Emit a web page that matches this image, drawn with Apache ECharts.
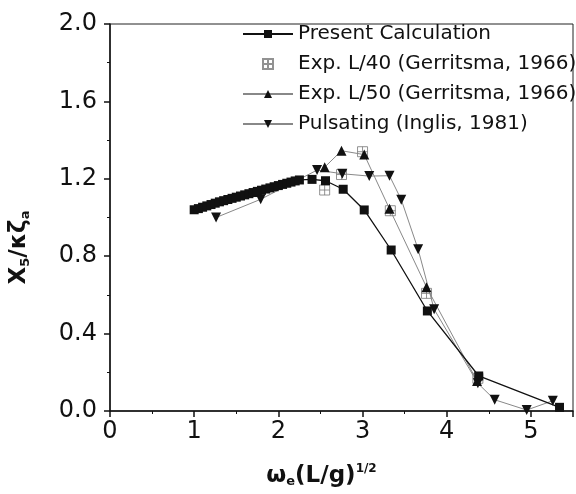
<!DOCTYPE html>
<html>
<head>
<meta charset="utf-8">
<script src="https://cdn.jsdelivr.net/npm/echarts@6/dist/echarts.min.js"></script>
<style>
  html, body { margin: 0; padding: 0; background: #fff; }
  #chart { width: 576px; height: 494px; }
</style>
</head>
<body>
<div id="chart"></div>
<script>
// Present Calculation
var calcX = [1.00, 1.05, 1.10, 1.15, 1.20, 1.25, 1.30, 1.35, 1.40, 1.45, 1.50, 1.55, 1.60,
             1.65, 1.70, 1.75, 1.80, 1.85, 1.90, 1.95, 2.00, 2.05, 2.10, 2.15, 2.20, 2.25,
             2.40, 2.56, 2.77, 3.02, 3.34, 3.77, 4.38, 5.34];
var calcY = [1.040, 1.046, 1.053, 1.060, 1.067, 1.074, 1.081, 1.087, 1.093, 1.099, 1.105, 1.111, 1.117,
             1.123, 1.129, 1.135, 1.141, 1.147, 1.153, 1.159, 1.165, 1.171, 1.177, 1.183, 1.189, 1.194,
             1.197, 1.190, 1.146, 1.039, 0.832, 0.517, 0.181, 0.019];

// Exp. L/40 (Gerritsma, 1966)
var l40X = [2.55, 2.75, 3.00, 3.33, 3.76, 4.37];
var l40Y = [1.142, 1.222, 1.340, 1.035, 0.608, 0.169];

// Exp. L/50 (Gerritsma, 1966)
var l50X = [2.55, 2.75, 3.02, 3.32, 3.76, 4.36];
var l50Y = [1.260, 1.345, 1.325, 1.045, 0.640, 0.155];

// Pulsating (Inglis, 1981)
var pulsX = [1.26, 1.79, 2.46, 2.76, 3.08, 3.32, 3.46, 3.66, 3.85, 4.37, 4.57, 4.95, 5.26];
var pulsY = [1.000, 1.094, 1.245, 1.226, 1.214, 1.216, 1.092, 0.836, 0.526, 0.143, 0.058, 0.005, 0.053];

var xTicks = [0, 1, 2, 3, 4, 5];

function pairs(xs, ys) {
  var out = [];
  for (var i = 0; i < xs.length; i++) out.push([xs[i], ys[i]]);
  return out;
}

var FONT = 'DejaVu Sans';
var boxCross = 'path://M0,0H10V10H0Z M5,0V10 M0,5H10';
var triDown = 'path://M0,0L10,0L5,9Z';

var myChart = echarts.init(document.getElementById('chart'));

myChart.setOption({
  animation: false,
  backgroundColor: '#fff',
  textStyle: { fontFamily: FONT },
  grid: {
    left: 108,
    right: 1,
    top: 24,
    bottom: 83,
    show: true,
    borderColor: '#222',
    borderWidth: 1
  },
  legend: {
    orient: 'vertical',
    left: 242,
    top: 24,
    padding: 0,
    itemWidth: 50,
    itemHeight: 10,
    itemGap: 10,
    textStyle: { fontFamily: FONT, fontSize: 20, color: '#111' },
    data: ['Present Calculation', 'Exp. L/40 (Gerritsma, 1966)',
           'Exp. L/50 (Gerritsma, 1966)', 'Pulsating (Inglis, 1981)']
  },
  xAxis: {
    type: 'value',
    min: 0,
    max: 5.5,
    interval: 1,
    name: '{b|ω}{sub|e}{b|(L/g)}{sup|1/2}',
    nameLocation: 'middle',
    nameGap: 52,
    nameTextStyle: {
      padding: [0, 40, 0, 0],
      rich: {
        b: { fontFamily: FONT, fontSize: 23, fontWeight: 'bold', color: '#111' },
        sub: { fontFamily: FONT, fontSize: 13, fontWeight: 'bold', color: '#111', padding: [12, 0, 0, 0] },
        sup: { fontFamily: FONT, fontSize: 12, fontWeight: 'bold', color: '#111', padding: [0, 0, 14, 0] }
      }
    },
    axisLine: { lineStyle: { color: '#111', width: 1.5 } },
    axisTick: { inside: false, length: 6, lineStyle: { color: '#111', width: 1.5 } },
    minorTick: { show: true, splitNumber: 2, length: 3, lineStyle: { color: '#111' } },
    splitLine: { show: false },
    axisLabel: {
      margin: 9,
      fontFamily: FONT,
      fontSize: 24,
      color: '#111',
      formatter: function (v) { return xTicks.indexOf(v) >= 0 ? String(v) : ''; }
    }
  },
  yAxis: {
    type: 'value',
    min: 0,
    max: 2.0,
    interval: 0.4,
    name: '{b|X}{sub|5}{b|/κζ}{sub|a}',
    nameLocation: 'middle',
    nameGap: 78,
    nameTextStyle: {
      padding: [0, 0, 0, -60],
      rich: {
        b: { fontFamily: FONT, fontSize: 23, fontWeight: 'bold', color: '#111' },
        sub: { fontFamily: FONT, fontSize: 13, fontWeight: 'bold', color: '#111', padding: [12, 0, 0, 0] }
      }
    },
    axisLine: { show: true, lineStyle: { color: '#111', width: 1.5 } },
    axisTick: { inside: false, length: 6, lineStyle: { color: '#111', width: 1.5 } },
    minorTick: { show: true, splitNumber: 2, length: 3, lineStyle: { color: '#111' } },
    splitLine: { show: false },
    axisLabel: {
      margin: 13,
      fontFamily: FONT,
      fontSize: 24,
      color: '#111',
      formatter: function (v) { return v.toFixed(1); }
    }
  },
  series: [
    {
      name: 'Present Calculation',
      type: 'line',
      data: pairs(calcX, calcY),
      symbol: 'rect',
      symbolSize: 9,
      itemStyle: { color: '#111' },
      lineStyle: { color: '#111', width: 1.3 },
      z: 5
    },
    {
      name: 'Exp. L/40 (Gerritsma, 1966)',
      type: 'scatter',
      data: pairs(l40X, l40Y),
      symbol: boxCross,
      symbolSize: 10,
      itemStyle: { color: 'rgba(255,255,255,0)', borderColor: '#777', borderWidth: 1 },
      z: 3
    },
    {
      name: 'Exp. L/50 (Gerritsma, 1966)',
      type: 'line',
      data: pairs(l50X, l50Y),
      symbol: 'triangle',
      symbolSize: 10,
      itemStyle: { color: '#111' },
      lineStyle: { color: '#888', width: 1 },
      z: 4
    },
    {
      name: 'Pulsating (Inglis, 1981)',
      type: 'line',
      data: pairs(pulsX, pulsY),
      symbol: triDown,
      symbolSize: 10,
      itemStyle: { color: '#111' },
      lineStyle: { color: '#888', width: 1 },
      z: 4
    }
  ]
});
</script>
</body>
</html>
